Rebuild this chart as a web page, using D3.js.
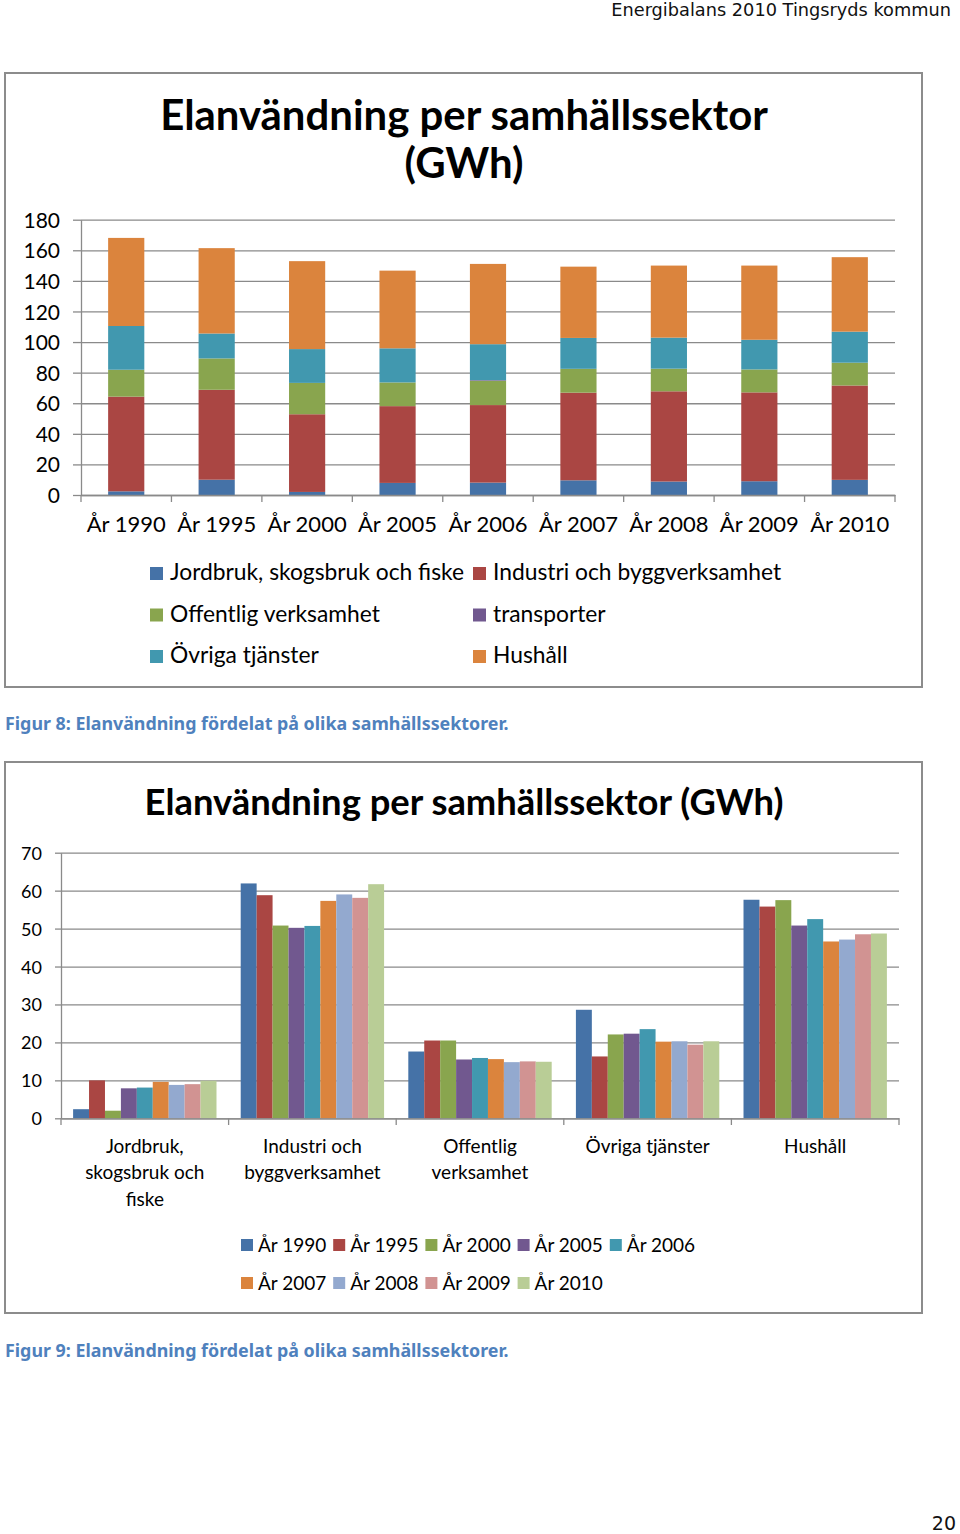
<!DOCTYPE html>
<html>
<head>
<meta charset="utf-8">
<script src="https://cdn.jsdelivr.net/npm/d3@7"></script>
<style>
  html, body { margin: 0; padding: 0; background: #fff; }
  svg { display: block; }
</style>
</head>
<body>
<script>
// ---------- DATA ----------
const years = ["År 1990","År 1995","År 2000","År 2005","År 2006","År 2007","År 2008","År 2009","År 2010"];
const sectorNames = ["Jordbruk, skogsbruk och fiske","Industri och byggverksamhet","Offentlig verksamhet","transporter","Övriga tjänster","Hushåll"];
const jordbruk    = [2.4, 10.0, 2.0, 7.9, 8.1, 9.6, 8.8, 9.0, 9.9];
const industri    = [61.9, 58.8, 50.8, 50.2, 50.7, 57.3, 59.0, 58.1, 61.7];
const offentlig   = [17.6, 20.5, 20.5, 15.5, 15.9, 15.6, 14.8, 15.0, 14.9];
const transporter = [0, 0, 0, 0, 0.4, 0, 0, 0, 0];
const ovriga      = [28.6, 16.3, 22.1, 22.3, 23.5, 20.2, 20.3, 19.4, 20.3];
const hushall     = [57.6, 55.8, 57.5, 50.8, 52.5, 46.6, 47.1, 48.5, 48.7];
const topTicks = [0,20,40,60,80,100,120,140,160,180];
const bottomTicks = [0,10,20,30,40,50,60,70];
const bottomCategories = ["Jordbruk, skogsbruk och fiske","Industri och byggverksamhet","Offentlig verksamhet","Övriga tjänster","Hushåll"];
const bottomCategoryLines = [["Jordbruk,","skogsbruk och","fiske"],["Industri och","byggverksamhet"],["Offentlig","verksamhet"],["Övriga tjänster"],["Hushåll"]];
const sectorColors = ["#4572A7","#AA4643","#89A54E","#71588F","#4198AF","#DB843D"];
const yearColors = ["#4572A7","#AA4643","#89A54E","#71588F","#4198AF","#DB843D","#93A9CF","#D19392","#B9CD96"];
const headerText = "Energibalans 2010 Tingsryds kommun";
const titleTop = ["Elanvändning per samhällssektor","(GWh)"];
const titleBottom = "Elanvändning per samhällssektor (GWh)";
const caption8 = "Figur 8: Elanvändning fördelat på olika samhällssektorer.";
const caption9 = "Figur 9: Elanvändning fördelat på olika samhällssektorer.";
const pageNumber = "20";

const sectorSeries = [jordbruk, industri, offentlig, transporter, ovriga, hushall];

// ---------- SETUP ----------
const W = 960, H = 1534;
const svg = d3.select("body").append("svg").attr("width", W).attr("height", H);
svg.append("rect").attr("width", W).attr("height", H).attr("fill", "#fff");

const FONT = "Lato, 'Open Sans', sans-serif";
const DOCFONT = "'DejaVu Sans', sans-serif";
const CAPFONT = "'Noto Sans', 'DejaVu Sans', sans-serif";
const GRID = "#8a8a8a";

function fitWidth(sel, w) {
  const n = sel.node();
  const fs = parseFloat(sel.attr("font-size"));
  const len = n.getComputedTextLength();
  sel.attr("font-size", fs * w / len);
  return fs * w / len;
}

// header
const hdr = svg.append("text").attr("x", 951).attr("y", 15.5).attr("text-anchor", "end")
  .attr("font-family", DOCFONT).attr("font-size", 17).attr("fill", "#111").text(headerText);
fitWidth(hdr, 340);

// page number
const pn = svg.append("text").attr("x", 956).attr("y", 1530).attr("text-anchor", "end")
  .attr("font-family", DOCFONT).attr("font-size", 19).attr("fill", "#111").text(pageNumber);

// ========== TOP CHART ==========
const topG = svg.append("g");
topG.append("rect").attr("x", 5).attr("y", 73).attr("width", 917).attr("height", 614)
  .attr("fill", "#fff").attr("stroke", "#8c8c8c").attr("stroke-width", 2);

const t1 = topG.append("text").attr("x", 464).attr("y", 130).attr("text-anchor", "middle")
  .attr("font-family", FONT).attr("font-weight", 700).attr("font-size", 36).attr("fill", "#000").text(titleTop[0]);
const tfs = fitWidth(t1, 608);
topG.append("text").attr("x", 464).attr("y", 178).attr("text-anchor", "middle")
  .attr("font-family", FONT).attr("font-weight", 700).attr("font-size", tfs).attr("fill", "#000").text(titleTop[1]);

const yTop = d3.scaleLinear().domain([0, 180]).range([495, 219.7]);
const xTop = d3.scaleBand().domain(years).range([81, 895]).paddingInner(0.6).paddingOuter(0.3);

// grid
const gridTop = topG.append("g").attr("transform", "translate(81,0)")
  .call(d3.axisLeft(yTop).tickValues(topTicks).tickSize(-(895 - 81)).tickFormat(""));
gridTop.select(".domain").remove();
gridTop.selectAll("line").attr("stroke", GRID).attr("stroke-width", 1.3);

// y axis
const yAxTop = topG.append("g").attr("transform", "translate(81,0)")
  .call(d3.axisLeft(yTop).tickValues(topTicks).tickSize(8).tickSizeOuter(0).tickPadding(13));
yAxTop.select(".domain").attr("stroke", GRID).attr("stroke-width", 1.3);
yAxTop.selectAll("line").attr("stroke", GRID).attr("stroke-width", 1.3);
yAxTop.selectAll("text").attr("font-family", FONT).attr("font-size", 21).attr("fill", "#000").attr("dy", "0.36em");

// stacked bars
const rowsTop = years.map((y, i) => {
  const o = { year: y };
  sectorNames.forEach((s, k) => o[s] = sectorSeries[k][i]);
  return o;
});
const stackTop = d3.stack().keys(sectorNames)(rowsTop);
topG.append("g").selectAll("g").data(stackTop).join("g")
  .attr("fill", (d, k) => sectorColors[k])
  .selectAll("rect").data(d => d).join("rect")
  .attr("x", d => xTop(d.data.year))
  .attr("width", xTop.bandwidth())
  .attr("y", d => yTop(d[1]))
  .attr("height", d => Math.max(0, yTop(d[0]) - yTop(d[1])));

// x axis
const xAxTop = topG.append("g").attr("transform", "translate(0,495)")
  .call(d3.axisBottom(xTop).tickSize(0).tickSizeOuter(0));
xAxTop.select(".domain").attr("stroke", GRID).attr("stroke-width", 1.3);
xAxTop.selectAll("text").attr("font-family", FONT).attr("font-size", 22).attr("fill", "#000")
  .attr("y", 37).attr("dy", 0);
const stepTop = xTop.step(), gapTop = (stepTop - xTop.bandwidth()) / 2;
const bTop = years.map(y => xTop(y) - gapTop).concat([xTop(years[years.length - 1]) + xTop.bandwidth() + gapTop]);
topG.append("g").selectAll("line").data(bTop).join("line")
  .attr("x1", d => d).attr("x2", d => d).attr("y1", 495).attr("y2", 502)
  .attr("stroke", GRID).attr("stroke-width", 1.3);

// legend
const legTop = topG.append("g").selectAll("g").data(sectorNames).join("g")
  .attr("transform", (d, i) => `translate(${[150, 473][i % 2]},${[580, 621.5, 663][Math.floor(i / 2)]})`);
legTop.append("rect").attr("x", 0).attr("y", -13).attr("width", 13).attr("height", 13)
  .attr("fill", (d, i) => sectorColors[i]);
legTop.append("text").attr("x", 20).attr("y", 0).attr("font-family", FONT).attr("font-size", 22.8)
  .attr("fill", "#000").text(d => d);

// caption
const c8 = svg.append("text").attr("x", 5).attr("y", 730).attr("font-family", CAPFONT)
  .attr("font-weight", 700).attr("font-size", 14).attr("fill", "#4F81BD").text(caption8);
fitWidth(c8, 504);

// ========== BOTTOM CHART ==========
const botG = svg.append("g");
botG.append("rect").attr("x", 5).attr("y", 762).attr("width", 917).attr("height", 551)
  .attr("fill", "#fff").attr("stroke", "#8c8c8c").attr("stroke-width", 2);

const t2 = botG.append("text").attr("x", 464).attr("y", 815).attr("text-anchor", "middle")
  .attr("font-family", FONT).attr("font-weight", 700).attr("font-size", 32).attr("fill", "#000").text(titleBottom);
fitWidth(t2, 639);

const yBot = d3.scaleLinear().domain([0, 70]).range([1118.3, 852.7]);
const x0 = d3.scaleBand().domain(bottomCategories).range([61, 899]);
const x1 = d3.scaleBand().domain(years).range([0, x0.bandwidth()]).paddingInner(0).paddingOuter(0.76);

const gridBot = botG.append("g").attr("transform", "translate(61,0)")
  .call(d3.axisLeft(yBot).tickValues(bottomTicks).tickSize(-(899 - 61)).tickFormat(""));
gridBot.select(".domain").remove();
gridBot.selectAll("line").attr("stroke", GRID).attr("stroke-width", 1.3);

const yAxBot = botG.append("g").attr("transform", "translate(61,0)")
  .call(d3.axisLeft(yBot).tickValues(bottomTicks).tickSize(6).tickSizeOuter(0).tickPadding(13));
yAxBot.select(".domain").attr("stroke", GRID).attr("stroke-width", 1.3);
yAxBot.selectAll("line").attr("stroke", GRID).attr("stroke-width", 1.3);
yAxBot.selectAll("text").attr("font-family", FONT).attr("font-size", 18).attr("fill", "#000").attr("dy", "0.36em");

const botSeries = [jordbruk, industri, offentlig, ovriga, hushall];
const rowsBot = bottomCategories.map((c, k) => ({ cat: c, vals: years.map((y, i) => ({ year: y, i, v: botSeries[k][i] })) }));
botG.append("g").selectAll("g").data(rowsBot).join("g")
  .attr("transform", d => `translate(${x0(d.cat)},0)`)
  .selectAll("rect").data(d => d.vals).join("rect")
  .attr("x", d => x1(d.year))
  .attr("width", x1.bandwidth())
  .attr("y", d => yBot(d.v))
  .attr("height", d => yBot(0) - yBot(d.v))
  .attr("fill", d => yearColors[d.i]);

const xAxBot = botG.append("g").attr("transform", "translate(0,1118.3)")
  .call(d3.axisBottom(x0).tickSize(0).tickSizeOuter(0).tickFormat(""));
xAxBot.select(".domain").attr("stroke", GRID).attr("stroke-width", 1.3);
const bBot = bottomCategories.map(c => x0(c)).concat([x0(bottomCategories[bottomCategories.length - 1]) + x0.bandwidth()]);
botG.append("g").selectAll("line").data(bBot).join("line")
  .attr("x1", d => d).attr("x2", d => d).attr("y1", 1118.3).attr("y2", 1125)
  .attr("stroke", GRID).attr("stroke-width", 1.3);

const catLab = botG.append("g").selectAll("text").data(bottomCategories).join("text")
  .attr("x", d => x0(d) + x0.bandwidth() / 2).attr("y", 1153)
  .attr("text-anchor", "middle").attr("font-family", FONT).attr("font-size", 19).attr("fill", "#000");
catLab.selectAll("tspan").data((d, k) => bottomCategoryLines[k]).join("tspan")
  .attr("x", function () { return this.parentNode.getAttribute("x"); })
  .attr("dy", (d, j) => j === 0 ? 0 : 26.4)
  .text(d => d);

const legBot = botG.append("g").selectAll("g").data(years).join("g")
  .attr("transform", (d, i) => `translate(${241 + 92.2 * (i % 5)},${[1251.5, 1289.5][Math.floor(i / 5)]})`);
legBot.append("rect").attr("x", 0).attr("y", -12.5).attr("width", 12).attr("height", 12)
  .attr("fill", (d, i) => yearColors[i]);
legBot.append("text").attr("x", 17).attr("y", 0).attr("font-family", FONT).attr("font-size", 19)
  .attr("fill", "#000").text(d => d);

const c9 = svg.append("text").attr("x", 5).attr("y", 1357).attr("font-family", CAPFONT)
  .attr("font-weight", 700).attr("font-size", 14).attr("fill", "#4F81BD").text(caption9);
fitWidth(c9, 504);
</script>
</body>
</html>
